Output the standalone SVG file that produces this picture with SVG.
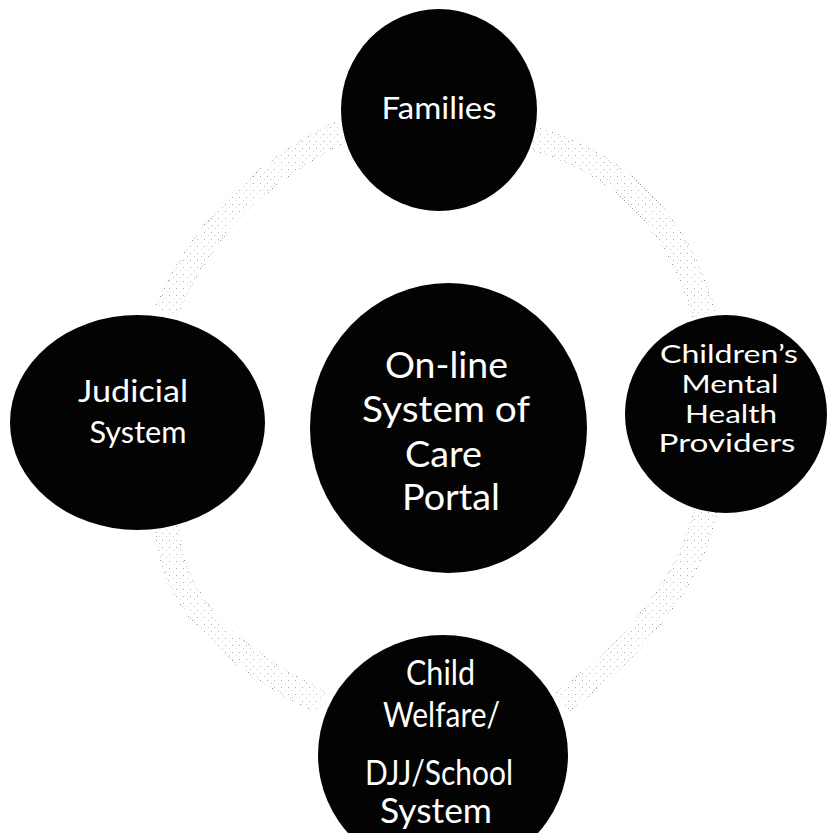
<svg xmlns="http://www.w3.org/2000/svg" width="827" height="833" viewBox="0 0 827 833">
  <defs>
    <pattern id="edge" patternUnits="userSpaceOnUse" width="4" height="4">
      <rect x="0" y="0" width="1" height="1" fill="#909090"/>
      <rect x="2" y="2" width="1" height="1" fill="#c0c0c0"/>
    </pattern>
    <pattern id="halftone" patternUnits="userSpaceOnUse" width="7" height="7">
      <rect x="1" y="1" width="1" height="1" fill="#b0b0b0"/>
      <rect x="5" y="4" width="1" height="1" fill="#cfcfcf"/>
    </pattern>
  </defs>
  <style>
    .node { fill: #030303; }
    .lbl { fill: #ffffff; font-family: Lato, "Open Sans", "Liberation Sans", sans-serif; text-anchor: middle; }
    .band-edge { fill: none; stroke: url(#edge); stroke-width: 24; stroke-linecap: butt; }
    .band-clear { fill: none; stroke: #ffffff; stroke-width: 21; stroke-linecap: butt; }
    .band-fill { fill: none; stroke: url(#halftone); stroke-width: 21; stroke-linecap: butt; }
  </style>
  <rect width="827" height="833" fill="#ffffff"/>

  <g id="connectors">
    <g id="arc-families-judicial">
      <path class="band-edge" d="M340,132 Q215,194.5 166,312"/>
      <path class="band-clear" d="M340,132 Q215,194.5 166,312"/>
      <path class="band-fill" d="M340,132 Q215,194.5 166,312"/>
    </g>
    <g id="arc-families-childrens">
      <path class="band-edge" d="M532,138 Q664.5,175 704,314"/>
      <path class="band-clear" d="M532,138 Q664.5,175 704,314"/>
      <path class="band-fill" d="M532,138 Q664.5,175 704,314"/>
    </g>
    <g id="arc-childrens-bottom">
      <path class="band-edge" d="M706,510 Q685,607.5 563,702"/>
      <path class="band-clear" d="M706,510 Q685,607.5 563,702"/>
      <path class="band-fill" d="M706,510 Q685,607.5 563,702"/>
    </g>
    <g id="arc-judicial-bottom">
      <path class="band-edge" d="M167,524 Q168.5,626 320,702"/>
      <path class="band-clear" d="M167,524 Q168.5,626 320,702"/>
      <path class="band-fill" d="M167,524 Q168.5,626 320,702"/>
    </g>
  </g>

  <g id="node-families">
    <ellipse class="node" cx="439" cy="110" rx="98" ry="101"/>
    <text class="lbl" x="439" y="119" font-size="30" textLength="115" lengthAdjust="spacingAndGlyphs">Families</text>
  </g>

  <g id="node-judicial">
    <ellipse class="node" cx="137.5" cy="422.5" rx="127.5" ry="107.5"/>
    <text class="lbl" x="133" y="402" font-size="30" textLength="110" lengthAdjust="spacingAndGlyphs">Judicial</text>
    <text class="lbl" x="138" y="443" font-size="30" textLength="97" lengthAdjust="spacingAndGlyphs">System</text>
  </g>

  <g id="node-portal">
    <ellipse class="node" cx="448.5" cy="428" rx="138.5" ry="145"/>
    <text class="lbl" x="446.5" y="378" font-size="37" textLength="123" lengthAdjust="spacingAndGlyphs">On-line</text>
    <text class="lbl" x="446" y="422" font-size="37" textLength="168" lengthAdjust="spacingAndGlyphs">System of</text>
    <text class="lbl" x="443.5" y="467" font-size="37" textLength="77" lengthAdjust="spacingAndGlyphs">Care</text>
    <text class="lbl" x="451" y="510" font-size="37" textLength="98" lengthAdjust="spacingAndGlyphs">Portal</text>
  </g>

  <g id="node-childrens">
    <ellipse class="node" cx="726" cy="414" rx="101" ry="99"/>
    <text class="lbl" x="729" y="363" font-size="25" textLength="138" lengthAdjust="spacingAndGlyphs">Children’s</text>
    <text class="lbl" x="730" y="393" font-size="25" textLength="97" lengthAdjust="spacingAndGlyphs">Mental</text>
    <text class="lbl" x="731" y="423" font-size="25" textLength="92" lengthAdjust="spacingAndGlyphs">Health</text>
    <text class="lbl" x="727" y="452" font-size="25" textLength="137" lengthAdjust="spacingAndGlyphs">Providers</text>
  </g>

  <g id="node-child-welfare">
    <ellipse class="node" cx="443" cy="755" rx="125" ry="120"/>
    <text class="lbl" x="440.5" y="685" font-size="34" textLength="69" lengthAdjust="spacingAndGlyphs">Child</text>
    <text class="lbl" x="441.5" y="727" font-size="34" textLength="117" lengthAdjust="spacingAndGlyphs">Welfare/</text>
    <text class="lbl" x="439" y="785" font-size="34" textLength="148" lengthAdjust="spacingAndGlyphs">DJJ/School</text>
    <text class="lbl" x="436" y="823" font-size="34" textLength="112" lengthAdjust="spacingAndGlyphs">System</text>
  </g>
</svg>
